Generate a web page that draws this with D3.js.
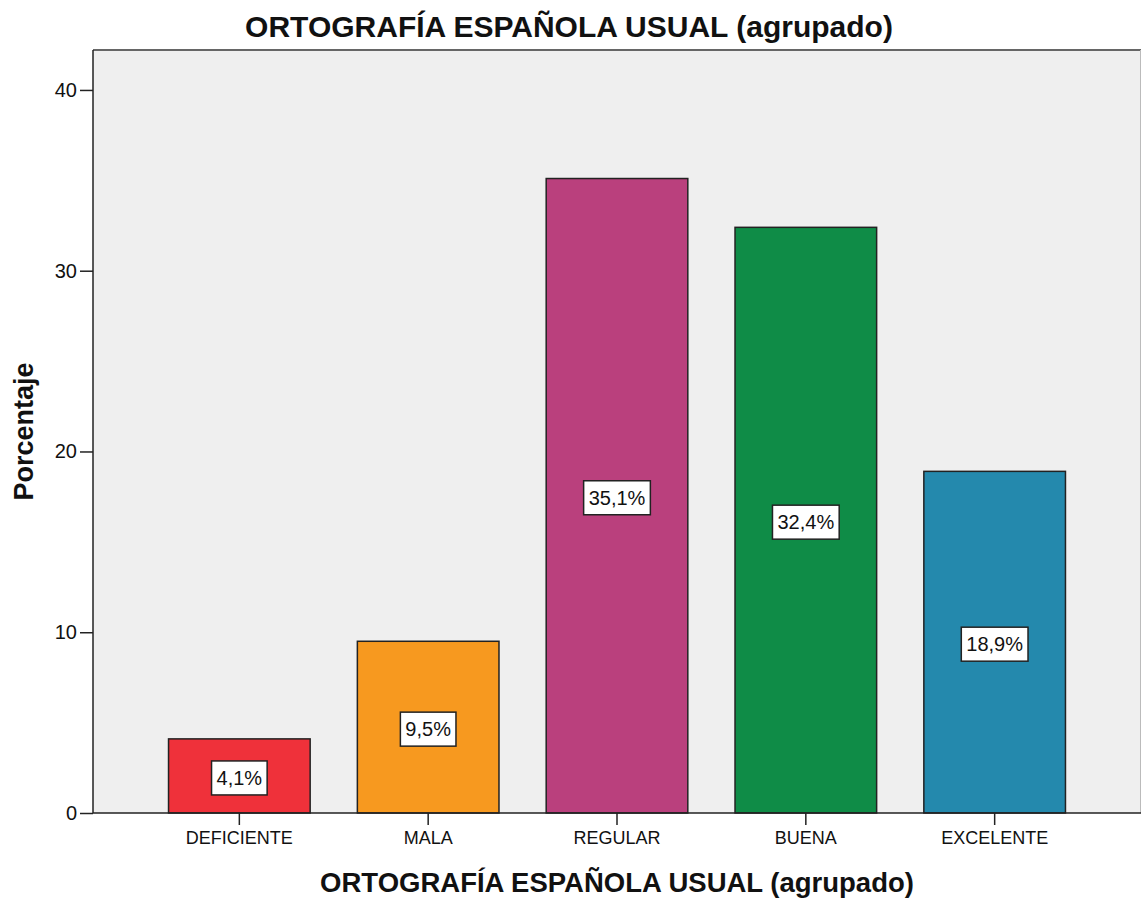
<!DOCTYPE html>
<html>
<head>
<meta charset="utf-8">
<script src="https://cdn.jsdelivr.net/npm/d3@7"></script>
<style>
  html, body { margin: 0; padding: 0; background: #fff; }
  svg { display: block; }
  text { font-family: "Liberation Sans", Arial, sans-serif; fill: #111; }
</style>
</head>
<body>
<svg id="chart" width="1141" height="900"></svg>
<script>
const categories = ["DEFICIENTE", "MALA", "REGULAR", "BUENA", "EXCELENTE"];
const values = [4.1, 9.5, 35.1, 32.4, 18.9];
const valueLabels = ["4,1%", "9,5%", "35,1%", "32,4%", "18,9%"];
const colors = ["#ef313a", "#f7991f", "#ba407d", "#0f8c47", "#2489ad"];
const yTicks = [0, 10, 20, 30, 40];
const title = "ORTOGRAFÍA ESPAÑOLA USUAL (agrupado)";
const xTitle = "ORTOGRAFÍA ESPAÑOLA USUAL (agrupado)";
const yTitle = "Porcentaje";

const svg = d3.select("#chart");
const pLeft = 93, pRight = 1141, pTop = 50, pBottom = 813;

const x = d3.scaleBand().domain(categories).range([pLeft, pRight])
  .paddingInner(0.25).paddingOuter(0.4);
const y = d3.scaleLinear().domain([0, 42.21]).range([pBottom, pTop]);

// plot background
svg.append("rect").attr("x", pLeft).attr("y", pTop)
  .attr("width", pRight - pLeft).attr("height", pBottom - pTop)
  .attr("fill", "#efefef");
// top border
svg.append("line").attr("x1", pLeft).attr("x2", pRight).attr("y1", pTop).attr("y2", pTop)
  .attr("stroke", "#666").attr("stroke-width", 2);
// right border
svg.append("line").attr("x1", pRight - 0.5).attr("x2", pRight - 0.5).attr("y1", pTop).attr("y2", pBottom)
  .attr("stroke", "#bbb").attr("stroke-width", 1);

// bars
svg.selectAll("rect.bar").data(categories).enter().append("rect")
  .attr("class", "bar")
  .attr("x", d => x(d))
  .attr("y", (d, i) => y(values[i]))
  .attr("width", x.bandwidth())
  .attr("height", (d, i) => y(0) - y(values[i]))
  .attr("fill", (d, i) => colors[i])
  .attr("stroke", "#222").attr("stroke-width", 1.5);

// value labels
const lab = svg.selectAll("g.lab").data(categories).enter().append("g")
  .attr("class", "lab")
  .attr("transform", (d, i) => `translate(${x(d) + x.bandwidth() / 2},${(y(values[i]) + y(0)) / 2 + 2})`);
lab.append("rect").attr("class", "box");
lab.append("text")
  .attr("text-anchor", "middle").attr("dy", "0.36em")
  .style("font-size", "20px")
  .text((d, i) => valueLabels[i]);
lab.each(function () {
  const g = d3.select(this);
  const w = g.select("text").node().getComputedTextLength();
  g.select("rect.box")
    .attr("x", -w / 2 - 5).attr("y", -17)
    .attr("width", w + 10).attr("height", 34)
    .attr("fill", "#fff").attr("stroke", "#222").attr("stroke-width", 1.5);
});

// y axis
const yAxis = svg.append("g").attr("transform", `translate(${pLeft},0)`)
  .call(d3.axisLeft(y).tickValues(yTicks).tickSize(13).tickPadding(3));
yAxis.select(".domain").attr("stroke", "#222").attr("stroke-width", 1.5)
  .attr("d", `M0,${pTop}V${pBottom}`);
yAxis.selectAll(".tick line").attr("stroke", "#222").attr("stroke-width", 1.5);
yAxis.selectAll(".tick text").style("font-size", "20px").attr("fill", "#111")
  .style("font-family", "'Liberation Sans', Arial, sans-serif");

// x axis
const xAxis = svg.append("g").attr("transform", `translate(0,${pBottom})`)
  .call(d3.axisBottom(x).tickSize(12).tickPadding(6));
xAxis.select(".domain").attr("stroke", "#222").attr("stroke-width", 1.5)
  .attr("d", `M${pLeft},0H${pRight}`);
xAxis.selectAll(".tick line").attr("stroke", "#222").attr("stroke-width", 1.5);
xAxis.selectAll(".tick text").style("font-size", "18px").attr("fill", "#111")
  .style("font-family", "'Liberation Sans', Arial, sans-serif");

// titles
svg.append("text").attr("x", 569).attr("y", 37).attr("text-anchor", "middle")
  .style("font-size", "30px").style("font-weight", "bold").text(title);
svg.append("text").attr("x", 617).attr("y", 892).attr("text-anchor", "middle")
  .style("font-size", "27.5px").style("font-weight", "bold").text(xTitle);
svg.append("text").attr("transform", `translate(33,${(pTop + pBottom) / 2}) rotate(-90)`)
  .attr("text-anchor", "middle")
  .style("font-size", "27px").style("font-weight", "bold").text(yTitle);
</script>
</body>
</html>
